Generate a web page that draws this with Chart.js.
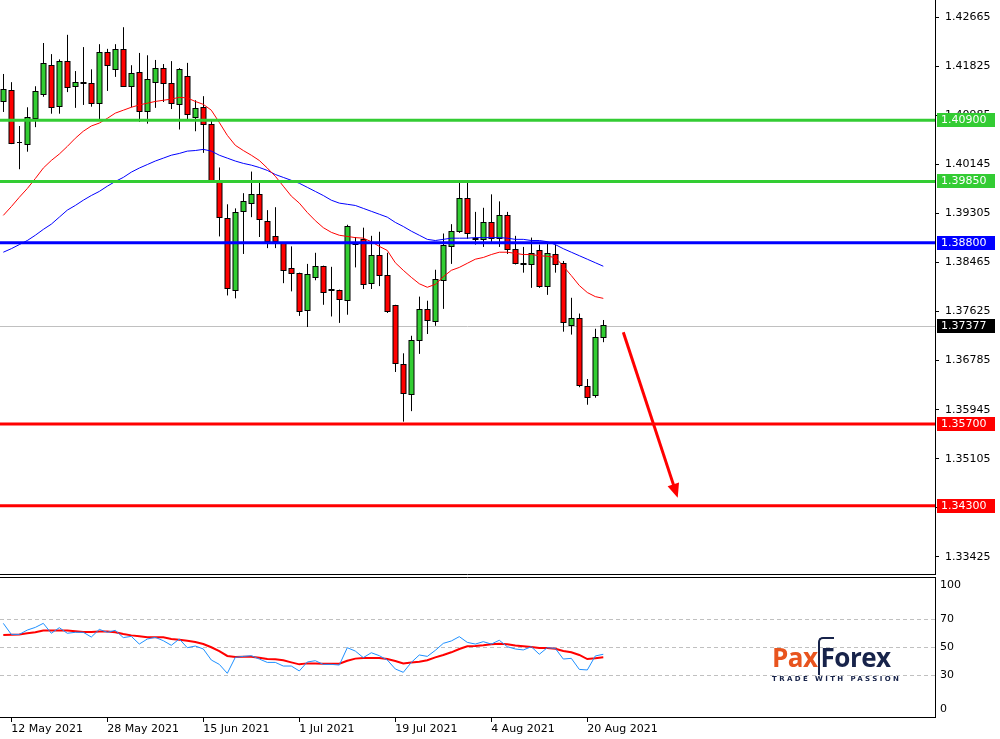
<!DOCTYPE html>
<html><head><meta charset="utf-8">
<script src="https://cdn.jsdelivr.net/npm/chart.js@4.4.0/dist/chart.umd.min.js"></script>
<style>
body{margin:0;background:#fff;width:1000px;height:739px;overflow:hidden;position:relative;font-family:"DejaVu Sans",sans-serif}
canvas{position:absolute;left:0}
#logo{position:absolute;left:772px;top:642px;width:200px}
</style></head><body>
<canvas id="main" width="1000" height="575" style="top:0"></canvas>
<canvas id="low" width="1000" height="164" style="top:575px"></canvas>
<div id="logo">
<div style="font:bold 26px 'Open Sans',sans-serif;letter-spacing:-0.5px;line-height:30px"><span style="color:#E8541E">Pax</span><span style="color:#17234A;border:2px solid #17234A;border-right:none;border-bottom:none;border-radius:5px 0 0 0;padding:0 0 0 1px">F</span><span style="color:#17234A">orex</span></div>
<div style="font:bold 7px 'DejaVu Sans',sans-serif;color:#17234A;letter-spacing:2.4px;margin-top:3px;white-space:nowrap">TRADE WITH PASSION</div>
</div>
<script>
const opens=[1.4122,1.4141,1.4052,1.4050,1.4094,1.4134,1.4185,1.4115,1.4191,1.4149,1.4156,1.4153,1.4120,1.4206,1.4177,1.4211,1.4149,1.4172,1.4105,1.4155,1.4180,1.4153,1.4117,1.4165,1.4096,1.4112,1.4083,1.3987,1.3923,1.3800,1.3935,1.3949,1.3963,1.3918,1.3891,1.3880,1.3837,1.3829,1.3765,1.3822,1.3841,1.3800,1.3800,1.3783,1.3880,1.3887,1.3812,1.3860,1.3825,1.3773,1.3673,1.3621,1.3714,1.3767,1.3747,1.3817,1.3875,1.3901,1.3956,1.3889,1.3887,1.3915,1.3889,1.3928,1.3870,1.3846,1.3843,1.3867,1.3807,1.3861,1.3846,1.3740,1.3752,1.3635,1.3620,1.3719];
const highs=[1.4169,1.4155,1.4080,1.4112,1.4148,1.4222,1.4203,1.4194,1.4236,1.4174,1.4215,1.4177,1.4220,1.4212,1.4220,1.4249,1.4184,1.4205,1.4201,1.4193,1.4186,1.4191,1.4179,1.4188,1.4124,1.4131,1.4090,1.4009,1.3946,1.3939,1.3965,1.4002,1.3984,1.3936,1.3941,1.3881,1.3874,1.3829,1.3844,1.3863,1.3841,1.3839,1.3800,1.3911,1.3890,1.3906,1.3892,1.3899,1.3863,1.3774,1.3691,1.3721,1.3788,1.3781,1.3834,1.3896,1.3912,1.3984,1.3984,1.3933,1.3940,1.3963,1.3951,1.3933,1.3892,1.3873,1.3889,1.3877,1.3879,1.3877,1.3849,1.3786,1.3759,1.3647,1.3733,1.3748];
const lows=[1.4104,1.4049,1.4006,1.4036,1.4078,1.4130,1.4101,1.4101,1.4138,1.4111,1.4116,1.4113,1.4090,1.4140,1.4164,1.4147,1.4112,1.4087,1.4084,1.4111,1.4121,1.4109,1.4074,1.4090,1.4071,1.4034,1.3984,1.3891,1.3790,1.3785,1.3861,1.3924,1.3890,1.3871,1.3871,1.3811,1.3797,1.3755,1.3736,1.3816,1.3774,1.3754,1.3743,1.3757,1.3838,1.3801,1.3801,1.3806,1.3760,1.3659,1.3574,1.3592,1.3690,1.3724,1.3738,1.3767,1.3844,1.3897,1.3887,1.3877,1.3873,1.3879,1.3873,1.3861,1.3843,1.3829,1.3803,1.3803,1.3791,1.3829,1.3728,1.3723,1.3633,1.3603,1.3615,1.3710];
const closes=[1.4143,1.4051,1.4053,1.4096,1.4140,1.4187,1.4113,1.4191,1.4146,1.4156,1.4153,1.4120,1.4206,1.4185,1.4211,1.4149,1.4170,1.4105,1.4160,1.4180,1.4153,1.4119,1.4177,1.4100,1.4110,1.4083,1.3987,1.3924,1.3803,1.3933,1.3951,1.3963,1.3921,1.3884,1.3884,1.3834,1.3829,1.3764,1.3827,1.3841,1.3796,1.3801,1.3784,1.3908,1.3878,1.3810,1.3860,1.3825,1.3764,1.3675,1.3623,1.3714,1.3767,1.3748,1.3819,1.3877,1.3901,1.3957,1.3897,1.3886,1.3915,1.3889,1.3928,1.3870,1.3846,1.3843,1.3863,1.3807,1.3863,1.3843,1.3745,1.3752,1.3637,1.3616,1.3719,1.3740];
const maFast=[1.3927,1.3942,1.3958,1.3973,1.3990,1.4008,1.4021,1.4032,1.4045,1.4059,1.4071,1.4080,1.4085,1.4093,1.4102,1.4107,1.4112,1.4116,1.4119,1.4122,1.4124,1.4126,1.4129,1.4128,1.4122,1.4117,1.4107,1.4086,1.4064,1.4047,1.4038,1.4030,1.4021,1.4008,1.3994,1.3977,1.3960,1.3948,1.3932,1.3918,1.3906,1.3898,1.3893,1.3891,1.3889,1.3888,1.3882,1.3874,1.3867,1.3846,1.3833,1.3821,1.3810,1.3804,1.3809,1.3822,1.3833,1.3838,1.3845,1.3852,1.3855,1.3860,1.3864,1.3864,1.3862,1.3860,1.3860,1.3858,1.3857,1.3855,1.3840,1.3824,1.3807,1.3795,1.3788,1.3785];
const maSlow=[1.3864,1.3870,1.3877,1.3884,1.3893,1.3903,1.3912,1.3924,1.3936,1.3944,1.3953,1.3961,1.3968,1.3977,1.3985,1.3992,1.4001,1.4008,1.4014,1.4020,1.4025,1.4030,1.4033,1.4037,1.4038,1.4040,1.4037,1.4030,1.4025,1.4020,1.4016,1.4013,1.4009,1.4004,1.3997,1.3992,1.3987,1.3982,1.3975,1.3968,1.3961,1.3953,1.3948,1.3946,1.3944,1.3939,1.3934,1.3929,1.3924,1.3915,1.3908,1.3900,1.3893,1.3886,1.3884,1.3886,1.3888,1.3888,1.3888,1.3889,1.3889,1.3889,1.3889,1.3888,1.3886,1.3886,1.3884,1.3884,1.3882,1.3877,1.3870,1.3864,1.3858,1.3852,1.3846,1.3840];
const rsi=[66.9,59.0,59.0,62.1,64.0,66.9,59.8,63.8,59.8,60.5,60.5,57.1,62.6,60.5,61.9,56.7,57.6,52.1,55.7,56.9,54.5,51.2,55.7,49.5,50.7,48.6,40.7,37.6,31.2,42.6,43.3,43.8,41.4,39.0,39.0,36.4,36.4,32.9,39.3,40.2,37.6,37.6,37.1,49.5,47.1,42.4,45.9,43.8,40.7,34.3,31.9,39.0,44.3,43.3,47.6,52.6,54.3,57.4,53.3,52.1,53.8,52.1,54.8,50.2,48.6,47.9,50.2,44.8,49.5,49.0,41.4,41.9,34.0,33.6,43.6,44.8];
const rsiSignal=[58.6,58.8,59.0,59.8,60.5,61.7,61.7,61.7,61.7,61.2,60.7,60.7,61.0,61.0,60.5,59.3,58.3,57.6,56.9,56.9,56.9,55.7,55.2,54.5,53.6,52.1,49.8,47.1,43.6,42.9,43.1,43.1,42.4,41.4,41.2,40.5,39.0,37.6,38.3,38.3,38.1,38.1,38.1,40.2,41.7,42.1,42.1,42.1,41.4,40.0,38.3,39.0,39.5,40.5,42.6,44.3,46.2,48.6,50.5,50.7,51.2,51.9,52.4,51.9,51.0,50.5,50.0,49.3,49.3,48.8,47.1,46.2,44.3,41.4,41.9,42.6];
const priceTicks=[1.42665,1.41825,1.40985,1.40145,1.39305,1.38465,1.37625,1.36785,1.35945,1.35105,1.34265,1.33425];
const dateTickIdx=[1,13,25,37,49,61,73];
const dateTickLabels=["12 May 2021","28 May 2021","15 Jun 2021","1 Jul 2021","19 Jul 2021","4 Aug 2021","20 Aug 2021"];
const levels=[{v:1.4090,c:"#33CC33",t:"1.40900"},{v:1.3985,c:"#33CC33",t:"1.39850"},{v:1.3880,c:"#0000FF",t:"1.38800"},{v:1.3570,c:"#FF0000",t:"1.35700"},{v:1.3430,c:"#FF0000",t:"1.34300"}];
const lastPrice=1.37377;
const arrowPts=[{x:77.5,y:1.3727},{x:84.3,y:1.3444}];
const rsiLabels=[100,70,50,30,0];

const XMIN=-0.4125, XMAX=XMIN+935/8;
const pts=a=>a.map((v,i)=>({x:i,y:v}));
const font="11px 'DejaVu Sans'";

const mainPlugin={id:'mp',
 beforeDatasetsDraw(ch){const {ctx}=ch,xs=ch.scales.x,ys=ch.scales.y,a=ch.chartArea;
  ctx.save();
  ctx.strokeStyle="#C0C0C0";ctx.lineWidth=1;const yl=Math.round(ys.getPixelForValue(lastPrice))+0.5;
  ctx.beginPath();ctx.moveTo(a.left,yl);ctx.lineTo(a.right,yl);ctx.stroke();
  for(let i=0;i<opens.length;i++){const x=Math.round(xs.getPixelForValue(i))+0.5;
   const o=ys.getPixelForValue(opens[i]),c=ys.getPixelForValue(closes[i]),h=ys.getPixelForValue(highs[i]),l=ys.getPixelForValue(lows[i]);
   ctx.strokeStyle="#000";ctx.lineWidth=1;ctx.beginPath();ctx.moveTo(x,h);ctx.lineTo(x,l);ctx.stroke();
   const top=Math.round(Math.min(o,c))+0.5,bot=Math.round(Math.max(o,c))+0.5;
   if(bot-top<1){ctx.beginPath();ctx.moveTo(x-2.5,top);ctx.lineTo(x+2.5,top);ctx.stroke();continue;}
   ctx.fillStyle=closes[i]>=opens[i]?"#32CD32":"#FF0000";
   ctx.fillRect(x-2.5,top,5,bot-top);ctx.strokeRect(x-2.5,top,5,bot-top);}
  ctx.restore();},
 afterDatasetsDraw(ch){const {ctx}=ch,xs=ch.scales.x,ys=ch.scales.y,a=ch.chartArea;
  ctx.save();
  levels.forEach(L=>{const y=ys.getPixelForValue(L.v);ctx.strokeStyle=L.c;ctx.lineWidth=3;ctx.beginPath();ctx.moveTo(a.left,y);ctx.lineTo(a.right,y);ctx.stroke();});
  const x1=xs.getPixelForValue(arrowPts[0].x),y1=ys.getPixelForValue(arrowPts[0].y),x2=xs.getPixelForValue(arrowPts[1].x),y2=ys.getPixelForValue(arrowPts[1].y);
  const ang=Math.atan2(y2-y1,x2-x1);
  ctx.strokeStyle="#FF0000";ctx.fillStyle="#FF0000";ctx.lineWidth=3;ctx.beginPath();ctx.moveTo(x1,y1);ctx.lineTo(x2-10*Math.cos(ang),y2-10*Math.sin(ang));ctx.stroke();
  ctx.beginPath();ctx.moveTo(x2,y2);ctx.lineTo(x2-14*Math.cos(ang)+6*Math.sin(ang),y2-14*Math.sin(ang)-6*Math.cos(ang));ctx.lineTo(x2-14*Math.cos(ang)-6*Math.sin(ang),y2-14*Math.sin(ang)+6*Math.cos(ang));ctx.closePath();ctx.fill();
  ctx.restore();},
 afterDraw(ch){const {ctx}=ch,ys=ch.scales.y,a=ch.chartArea;ctx.save();
  ctx.font=font;ctx.textBaseline="middle";
  const box=(v,bg,t)=>{const y=Math.round(ys.getPixelForValue(v));ctx.fillStyle=bg;ctx.fillRect(a.right+2,y-7,58,14);ctx.fillStyle="#fff";ctx.textAlign="left";ctx.fillText(t,a.right+6,y+0.5);};
  levels.forEach(L=>box(L.v,L.c,L.t));box(lastPrice,"#000","1.37377");
  ctx.strokeStyle="#000";ctx.lineWidth=1;ctx.beginPath();ctx.moveTo(0,a.bottom-0.5);ctx.lineTo(a.right,a.bottom-0.5);ctx.stroke();
  ctx.restore();}
};

new Chart(document.getElementById('main'),{type:'line',
 data:{datasets:[
  {data:pts(maFast),borderColor:"#FF0000",borderWidth:1,pointRadius:0,tension:0},
  {data:pts(maSlow),borderColor:"#0000FF",borderWidth:1,pointRadius:0,tension:0}]},
 options:{responsive:false,devicePixelRatio:1,animation:false,events:[],
  plugins:{legend:{display:false},tooltip:{enabled:false}},
  layout:{padding:0},
  scales:{x:{type:'linear',min:XMIN,max:XMAX,display:false},
   y:{position:'right',min:1.33116,max:1.42956,afterFit:s=>{s.width=65;s.paddingTop=0;s.paddingBottom=0},
    afterBuildTicks:s=>{s.ticks=priceTicks.map(v=>({value:v}))},
    ticks:{font:{family:'DejaVu Sans',size:11},color:'#000',padding:6,callback:v=>v.toFixed(5)},
    grid:{drawOnChartArea:false,drawTicks:true,tickLength:4,color:'#000'},
    border:{display:true,color:'#000',width:1}}}},
 plugins:[mainPlugin]});

const lowPlugin={id:'lp',
 beforeDatasetsDraw(ch){const {ctx}=ch,ys=ch.scales.y,a=ch.chartArea;ctx.save();
  ctx.strokeStyle="#C0C0C0";ctx.setLineDash([4,3]);ctx.lineWidth=1;
  [70,50,30].forEach(v=>{const y=Math.round(ys.getPixelForValue(v))+0.5;ctx.beginPath();ctx.moveTo(a.left,y);ctx.lineTo(a.right,y);ctx.stroke();});
  ctx.restore();},
 afterDraw(ch){const {ctx}=ch,ys=ch.scales.y,a=ch.chartArea;ctx.save();
  ctx.strokeStyle="#000";ctx.lineWidth=1;ctx.beginPath();ctx.moveTo(0,a.top+0.5);ctx.lineTo(a.right,a.top+0.5);ctx.stroke();
  ctx.font=font;ctx.fillStyle="#000";ctx.textAlign="left";ctx.textBaseline="middle";
  rsiLabels.forEach(v=>{let y=ys.getPixelForValue(v);if(v===100)y+=8;if(v===0)y-=8;ctx.fillText(String(v),a.right+5,y);});
  ctx.restore();}
};

new Chart(document.getElementById('low'),{type:'line',
 data:{datasets:[
  {data:pts(rsi),borderColor:"#1E90FF",borderWidth:1,pointRadius:0,tension:0},
  {data:pts(rsiSignal),borderColor:"#FF0000",borderWidth:2,pointRadius:0,tension:0}]},
 options:{responsive:false,devicePixelRatio:1,animation:false,events:[],
  plugins:{legend:{display:false},tooltip:{enabled:false}},
  layout:{padding:{top:2}},
  scales:{x:{type:'linear',min:XMIN,max:XMAX,afterFit:s=>{s.height=22},
    afterBuildTicks:s=>{s.ticks=dateTickIdx.map(v=>({value:v}))},
    ticks:{font:{family:'DejaVu Sans',size:11},color:'#000',align:'start',padding:1,maxRotation:0,autoSkip:false,
     callback:v=>dateTickLabels[dateTickIdx.indexOf(Math.round(v))]},
    grid:{drawOnChartArea:false,drawTicks:true,tickLength:5,color:'#000'},
    border:{display:true,color:'#000'}},
   y:{position:'right',min:0,max:100,afterFit:s=>{s.width=65},ticks:{display:false},
    grid:{display:false},border:{display:true,color:'#000'}}}},
 plugins:[lowPlugin]});
</script></body></html>
